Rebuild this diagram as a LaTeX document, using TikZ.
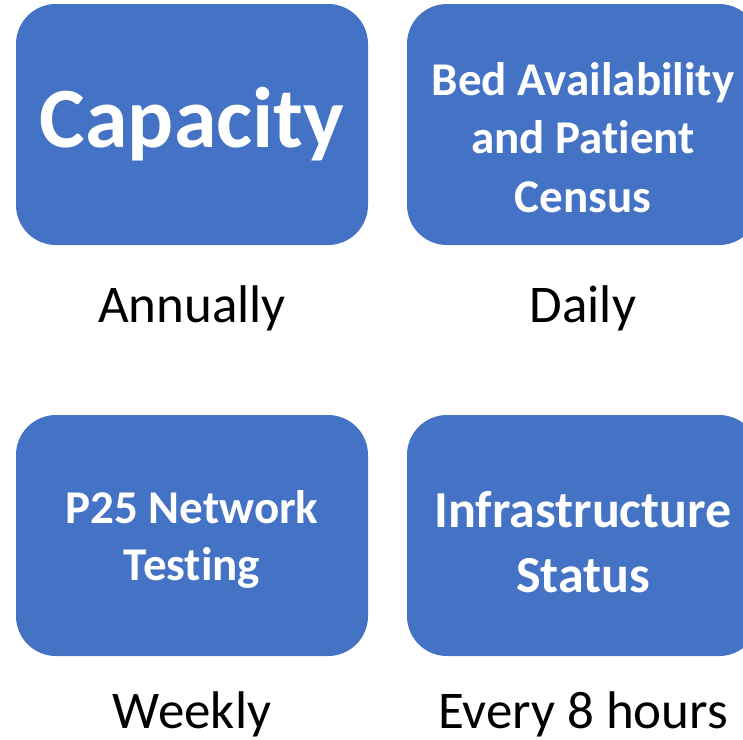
\documentclass[tikz,border=0pt]{standalone}
\usepackage{fontspec}
\setmainfont{Carlito}[Ligatures={NoCommon}]
\definecolor{boxblue}{HTML}{4472C4}
\begin{document}
\begin{tikzpicture}[x=1pt,y=-1pt,
  box/.style={fill=boxblue, draw=none, rounded corners=40pt,
    minimum width=352pt, minimum height=241pt, inner sep=0pt,
    text=white, align=center, text depth=0pt},
  freq/.style={anchor=base, inner sep=0pt, font=\fontsize{53}{64}\selectfont}]
\useasboundingbox (0,0) rectangle (743,739);
\clip (0,0) rectangle (743,739);
\node[box, text height=45pt, font=\fontsize{86}{104}\selectfont\bfseries] (cap) at (192,124.5) {Capacity};
\node[box, text height=175pt, font=\fontsize{47}{58.5}\selectfont\bfseries] (bed) at (583,124.5) {Bed Availability\\and Patient\\Census};
\node[box, text height=89pt, font=\fontsize{47}{57}\selectfont\bfseries] (p25) at (192,535.5) {P25 Network\\Testing};
\node[box, text height=113pt, font=\fontsize{52}{65}\selectfont\bfseries] (inf) at (583,535.5) {Infrastructure\\Status};
\node[freq] (ann) at (192,322) {Annually};
\node[freq] (day) at (583,322) {Daily};
\node[freq] (wk) at (192,728) {Weekly};
\node[freq] (e8) at (583,728) {Every 8 hours};
\end{tikzpicture}
\end{document}
